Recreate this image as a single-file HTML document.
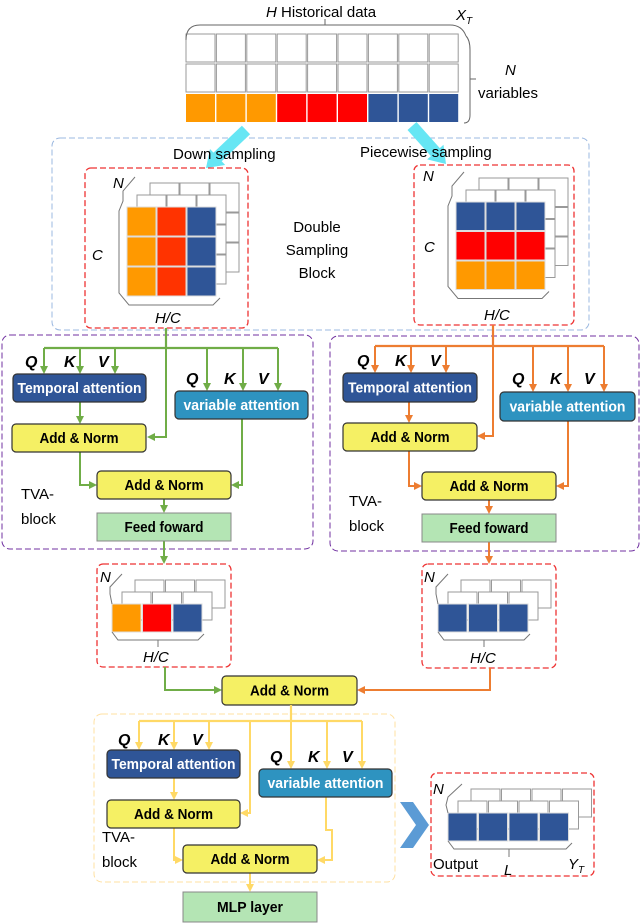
<!DOCTYPE html>
<html><head><meta charset="utf-8"><style>
body{margin:0;background:#fff}
svg{display:block;font-family:"Liberation Sans",sans-serif}
.bt{font-weight:bold;font-size:15px;text-anchor:middle}
.it{font-style:italic;font-size:15px}
.qkv{font-style:italic;font-weight:bold;font-size:16px}
.lb{font-size:15px}
</style></head><body>
<svg id="s" width="640" height="924" viewBox="0 0 640 924" xmlns="http://www.w3.org/2000/svg">
<defs>
<marker id="ag" markerWidth="8" markerHeight="8" refX="6" refY="4" orient="auto" markerUnits="userSpaceOnUse"><path d="M0,0L8,4L0,8z" fill="#70ad47"/></marker>
<marker id="ao" markerWidth="8" markerHeight="8" refX="6" refY="4" orient="auto" markerUnits="userSpaceOnUse"><path d="M0,0L8,4L0,8z" fill="#ed7d31"/></marker>
<marker id="ay" markerWidth="8" markerHeight="8" refX="6" refY="4" orient="auto" markerUnits="userSpaceOnUse"><path d="M0,0L8,4L0,8z" fill="#ffd966"/></marker>
</defs>
<g id="g"></g>
</svg>
<script>
var g=document.getElementById('g'),S='';
function R(x,y,w,h,f,s,extra){S+='<rect x="'+x+'" y="'+y+'" width="'+w+'" height="'+h+'" fill="'+f+'" stroke="'+(s||'none')+'" '+(extra||'')+'/>';}
function T(x,y,t,c,extra){S+='<text x="'+x+'" y="'+y+'" class="'+(c||'lb')+'" '+(extra||'')+'>'+t+'</text>';}
function P(d,st,extra){S+='<path d="'+d+'" fill="none" stroke="'+st+'" '+(extra||'')+'/>';}
var TL={'Temporal attention':124,'variable attention':116,'Add &amp; Norm':79,'Feed foward':79,'MLP layer':66};
function box(x,y,w,h,f,t,tc){R(x,y,w,h,f,'#333','rx="4" stroke-width="1.2"');T(x+w/2,y+h/2+5,t,'bt','fill="'+tc+'" textLength="'+TL[t]+'" lengthAdjust="spacingAndGlyphs"');}
function fbox(x,y,w,h,t){R(x,y,w,h,'#b4e5b4','#888');T(x+w/2,y+h/2+5,t,'bt','textLength="'+TL[t]+'" lengthAdjust="spacingAndGlyphs"');}
function cube(x,y,cols,rows,cw,ch,colors){
 var W=cols*cw,H=rows*ch;
 [[23,-24],[10,-12]].forEach(function(o){for(var r=0;r<rows;r++)for(var c=0;c<cols;c++)R(x+o[0]+c*cw,y+o[1]+r*ch,cw-1,ch-1,'#fff','#999');});
 for(var r=0;r<rows;r++)for(var c=0;c<cols;c++)R(x+c*cw,y+r*ch,cw-1,ch-1,colors[r][c],'#ddd');
 P('M'+(x+8)+','+(y-30)+' L'+(x-4)+','+(y-16)+' L'+(x-4)+','+(y-6)+' L'+(x-8)+','+(y+4)+' L'+(x-8)+','+(y+H-4)+' L'+(x+2)+','+(y+H+8)+' L'+(x+W-4)+','+(y+H+8)+' L'+(x+W+3)+','+(y+H+1),'#777','stroke-width="1"');
}
function barrow(x1,y1,x2,y2,col){
 var dx=x2-x1,dy=y2-y1,L=Math.sqrt(dx*dx+dy*dy),ux=dx/L,uy=dy/L,px=-uy,py=ux,hw=6,hh=11,hl=16;
 var bx=x2-ux*hl,by=y2-uy*hl;
 var pts=[[x1+px*hw,y1+py*hw],[bx+px*hw,by+py*hw],[bx+px*hh,by+py*hh],[x2,y2],[bx-px*hh,by-py*hh],[bx-px*hw,by-py*hw],[x1-px*hw,y1-py*hw]];
 S+='<polygon points="'+pts.map(function(p){return p[0].toFixed(1)+','+p[1].toFixed(1)}).join(' ')+'" fill="'+col+'"/>';
}
var O='#ff9900',Rd='#ff0000',B='#2f5597',Rd2='#ff3300';
for(var r=0;r<3;r++)for(var c=0;c<9;c++){var f='#fff';if(r==2)f=c<3?O:(c<6?Rd:B);R(186+c*30.4,34+r*30,29,28,f,r==2?'none':'#999');}
P('M186,40 Q186,25 200,25 L450,25 Q462,25 466,36','#666');P('M325,25 L325,19','#666');
P('M466,36 Q470,40 470,50 L470,115 Q470,123 464,123','#666');P('M470,79 L476,79','#666');
T(266,17,'<tspan font-style="italic">H</tspan> Historical data','lb','font-size="16"');
T(456,20,'X<tspan font-size="10" dy="4">T</tspan>','it','font-size="16"');
T(505,75,'N','it','font-size="16"');T(478,98,'variables','lb','font-size="16"');
R(52,138,537,192,'none','#9bb8e0','rx="8" stroke-dasharray="6,3"');
barrow(246,130,206,168,'#66e6f4');barrow(412,126,446,164,'#66e6f4');
T(173,159,'Down sampling','lb','font-size="16"');T(360,157,'Piecewise sampling','lb','font-size="16"');
R(85,168,163,160,'none','#ee3333','rx="6" stroke-dasharray="6,3" stroke-width="1.3"');
R(414,165,160,160,'none','#ee3333','rx="6" stroke-dasharray="6,3" stroke-width="1.3"');
cube(127,207,3,3,30,30,[[O,Rd2,B],[O,Rd2,B],[O,Rd2,B]]);
cube(456,202,3,3,30,29.5,[[B,B,B],[Rd,Rd,Rd],[O,O,O]]);
T(113,188,'N','it');T(92,260,'C','it');T(155,323,'H/C','it');
T(423,181,'N','it');T(424,252,'C','it');T(484,320,'H/C','it');
T(317,232,'Double','lb','font-size="17" text-anchor="middle"');T(317,255,'Sampling','lb','font-size="17" text-anchor="middle"');T(317,278,'Block','lb','font-size="17" text-anchor="middle"');
var G='#70ad47',Og='#ed7d31',Y='#ffd966';
R(2,335,311,214,'none','#7030a0','rx="8" stroke-dasharray="6,3"');
P('M166,328 L166,348 M44,348 L278,348',G,'stroke-width="2.2"');
[44,80,115].forEach(function(x){P('M'+x+',348 L'+x+',372',G,'stroke-width="2" marker-end="url(#ag)"');});
[207,243,278].forEach(function(x){P('M'+x+',348 L'+x+',389',G,'stroke-width="2" marker-end="url(#ag)"');});
P('M166,348 L166,437 L149,437',G,'stroke-width="2" marker-end="url(#ag)"');
P('M80,402 L80,422',G,'stroke-width="2" marker-end="url(#ag)"');
P('M80,452 L80,485 L95,485',G,'stroke-width="2" marker-end="url(#ag)"');
P('M242,419 L242,485 L233,485',G,'stroke-width="2" marker-end="url(#ag)"');
P('M164,499 L164,511',G,'stroke-width="2" marker-end="url(#ag)"');
P('M164,541 L164,562',G,'stroke-width="2" marker-end="url(#ag)"');
box(13,374,133,28,B,'Temporal attention','#fff');
box(175,391,133,28,'#2e93c0','variable attention','#fff');
box(12,424,134,28,'#f5f064','Add &amp; Norm','#000');
box(97,471,134,28,'#f5f064','Add &amp; Norm','#000');
fbox(97,513,134,28,'Feed foward');
T(25,367,'Q','qkv');T(64,367,'K','qkv');T(98,367,'V','qkv');
T(186,384,'Q','qkv');T(224,384,'K','qkv');T(258,384,'V','qkv');
T(21,499,'TVA-','lb','font-size="18"');T(21,524,'block','lb','font-size="18"');
R(330,336,309,215,'none','#7030a0','rx="8" stroke-dasharray="6,3"');
P('M493,325 L493,346 M375,346 L604,346',Og,'stroke-width="2.2"');
[375,411,446].forEach(function(x){P('M'+x+',346 L'+x+',371',Og,'stroke-width="2" marker-end="url(#ao)"');});
[533,568,604].forEach(function(x){P('M'+x+',346 L'+x+',390',Og,'stroke-width="2" marker-end="url(#ao)"');});
P('M493,346 L493,436 L479,436',Og,'stroke-width="2" marker-end="url(#ao)"');
P('M409,402 L409,421',Og,'stroke-width="2" marker-end="url(#ao)"');
P('M409,451 L409,486 L420,486',Og,'stroke-width="2" marker-end="url(#ao)"');
P('M568,421 L568,486 L558,486',Og,'stroke-width="2" marker-end="url(#ao)"');
P('M489,500 L489,512',Og,'stroke-width="2" marker-end="url(#ao)"');
P('M489,542 L489,562',Og,'stroke-width="2" marker-end="url(#ao)"');
box(343,373,134,29,B,'Temporal attention','#fff');
box(500,392,135,29,'#2e93c0','variable attention','#fff');
box(343,423,134,28,'#f5f064','Add &amp; Norm','#000');
box(422,472,134,28,'#f5f064','Add &amp; Norm','#000');
fbox(422,514,134,28,'Feed foward');
T(357,366,'Q','qkv');T(395,366,'K','qkv');T(430,366,'V','qkv');
T(512,384,'Q','qkv');T(550,384,'K','qkv');T(584,384,'V','qkv');
T(349,506,'TVA-','lb','font-size="18"');T(349,531,'block','lb','font-size="18"');
R(97,564,134,103,'none','#ee3333','rx="6" stroke-dasharray="6,3" stroke-width="1.3"');
R(422,564,134,104,'none','#ee3333','rx="6" stroke-dasharray="6,3" stroke-width="1.3"');
(function(){var x=112,y=604;[[23,-24],[10,-12]].forEach(function(o){for(var c=0;c<3;c++)R(x+o[0]+c*30.5,y+o[1],29,28,'#fff','#999');});
 [O,Rd,B].forEach(function(f,c){R(x+c*30.5,y,29,28,f,'#ddd');});
 P('M122,574 L110,587 L110,594 L112,604 M112,632 L118,640 L198,640 L204,634','#777');P('M158,640 L158,647','#777');})();
(function(){var x=438,y=604;[[23,-24],[10,-12]].forEach(function(o){for(var c=0;c<3;c++)R(x+o[0]+c*30.5,y+o[1],29,28,'#fff','#999');});
 [B,B,B].forEach(function(f,c){R(x+c*30.5,y,29,28,f,'#ddd');});
 P('M448,574 L436,587 L436,594 L438,604 M438,632 L444,640 L524,640 L530,634','#777');P('M484,640 L484,647','#777');})();
T(100,582,'N','it');T(143,662,'H/C','it');T(424,582,'N','it');T(470,663,'H/C','it');
P('M165,667 L165,690 L220,690',G,'stroke-width="2" marker-end="url(#ag)"');
P('M490,668 L490,690 L359,690',Og,'stroke-width="2" marker-end="url(#ao)"');
box(222,676,135,29,'#f5f064','Add &amp; Norm','#000');
R(94,714,301,168,'none','#ffe0a0','rx="8" stroke-dasharray="6,3"');
P('M291,705 L291,721 M139,721 L362,721',Y,'stroke-width="2.2"');
[139,174,209].forEach(function(x){P('M'+x+',721 L'+x+',748',Y,'stroke-width="2" marker-end="url(#ay)"');});
[291,327,362].forEach(function(x){P('M'+x+',721 L'+x+',767',Y,'stroke-width="2" marker-end="url(#ay)"');});
P('M250,721 L250,813 L242,813',Y,'stroke-width="2" marker-end="url(#ay)"');
P('M174,778 L174,798',Y,'stroke-width="2" marker-end="url(#ay)"');
P('M174,828 L174,860 L181,860',Y,'stroke-width="2" marker-end="url(#ay)"');
P('M326,797 L326,830 L332,830 L332,860 L319,860',Y,'stroke-width="2" marker-end="url(#ay)"');
P('M250,873 L250,890',Y,'stroke-width="2" marker-end="url(#ay)"');
box(107,750,133,28,B,'Temporal attention','#fff');
box(259,769,133,28,'#2e93c0','variable attention','#fff');
box(107,800,133,28,'#f5f064','Add &amp; Norm','#000');
box(183,845,134,28,'#f5f064','Add &amp; Norm','#000');
fbox(183,892,134,30,'MLP layer');
T(118,745,'Q','qkv');T(158,745,'K','qkv');T(192,745,'V','qkv');
T(270,762,'Q','qkv');T(308,762,'K','qkv');T(342,762,'V','qkv');
T(102,842,'TVA-','lb','font-size="18"');T(102,867,'block','lb','font-size="18"');
S+='<path d="M400,802 L413,802 L429,825 L413,848 L400,848 L416,825 Z" fill="#5b9bd5"/>';
R(431,773,163,103,'none','#ee3333','rx="6" stroke-dasharray="6,3" stroke-width="1.3"');
(function(){var x=448,y=813;[[23,-24],[10,-12]].forEach(function(o){for(var c=0;c<4;c++)R(x+o[0]+c*30.5,y+o[1],29,28,'#fff','#999');});
 for(var c=0;c<4;c++)R(x+c*30.5,y,29,28,B,'#ddd');
 P('M462,784 L448,797 L446,805 L448,813 M448,841 L454,849 L566,849 L572,843','#777');P('M509,849 L509,857','#777');})();
T(433,794,'N','it');T(433,869,'Output','lb','font-size="17"');T(504,875,'L','it','font-size="17"');
T(568,869,'Y<tspan font-size="10" dy="4">T</tspan>','it','font-size="17"');
g.innerHTML=S;
</script>
</body></html>
